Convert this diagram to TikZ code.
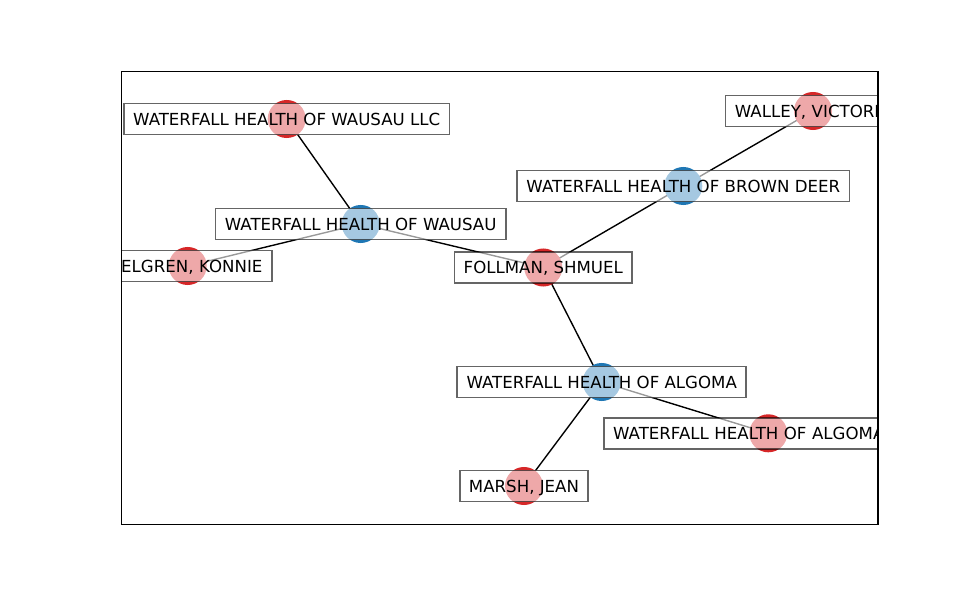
\documentclass[tikz,border=0pt]{standalone}
\usepackage{fontspec}
\setmainfont{DejaVu Sans}
\usetikzlibrary{backgrounds}

\definecolor{hubblue}{HTML}{1F77B4}
\definecolor{memberred}{HTML}{D62728}

\begin{document}
\begin{tikzpicture}[
            x=0.01in, y=-0.01in,
            dot/.style={circle, minimum size=0.38in, inner sep=0pt},
            hub/.style={dot, fill=hubblue},
            member/.style={dot, fill=memberred},
            tag/.style={rectangle, draw=black, fill=white, fill opacity=0.6, draw opacity=0.6,
                text opacity=1, line width=1.2pt, inner xsep=6.7pt, inner ysep=0pt,
                minimum height=0.31in, text height=8.8pt, text depth=0pt,
                font=\fontsize{12}{14}\selectfont},
            link/.style={black, line width=1pt},
        ]
            \useasboundingbox (0,0) rectangle (975,600);
            \coordinate (frame-sw) at (121.7,524.7);
            \coordinate (frame-ne) at (878,71.7);

            \begin{scope}
            \clip (frame-sw) rectangle (frame-ne);

            % Draw the facility nodes
            \foreach \name / \x / \y in {wausau/360.7/224, browndeer/683.3/186, algoma/601.7/382}
                \node[hub] (\name) at (\x,\y) {};

            % Draw the other nodes
            \foreach \name / \x / \y in {wausaullc/286.7/119, elgren/187.7/266, follman/543.3/267.5,
                    walley/813/111, algomallc/768.3/433.3, marsh/524/486}
                \node[member] (\name) at (\x,\y) {};

            % Connect the nodes, behind the circles
            \begin{pgfonlayer}{background}
            \foreach \a / \b in {wausaullc/wausau, wausau/elgren, wausau/follman, follman/browndeer,
                    browndeer/walley, follman/algoma, algoma/algomallc, algoma/marsh}
                \draw[link] (\a.center) -- (\b.center);
            \end{pgfonlayer}

            % Draw the labels on top
            \foreach \name / \txt in {wausaullc/{WATERFALL HEALTH OF WAUSAU LLC},
                    wausau/{WATERFALL HEALTH OF WAUSAU}, follman/{FOLLMAN, SHMUEL},
                    browndeer/{WATERFALL HEALTH OF BROWN DEER}, algoma/{WATERFALL HEALTH OF ALGOMA},
                    marsh/{MARSH, JEAN}}
                \node[tag] (\name-lbl) at (\name) {\txt};
            % labels cut by the frame
            \node[tag, text width=1.68in-13.4pt, align=right] (elgren-lbl) at (elgren) {ELGREN, KONNIE};
            \node[tag, text width=1.747in-13.4pt, align=left] (walley-lbl) at (walley) {WALLEY, VICTORI};
            \node[tag, text width=3.286in-13.4pt, align=left] (algomallc-lbl) at (algomallc) {WATERFALL HEALTH OF ALGOMA};
            \end{scope}

            % Draw the frame
            \draw[line width=1pt] (frame-sw) rectangle (frame-ne);
        \end{tikzpicture}
\end{document}
